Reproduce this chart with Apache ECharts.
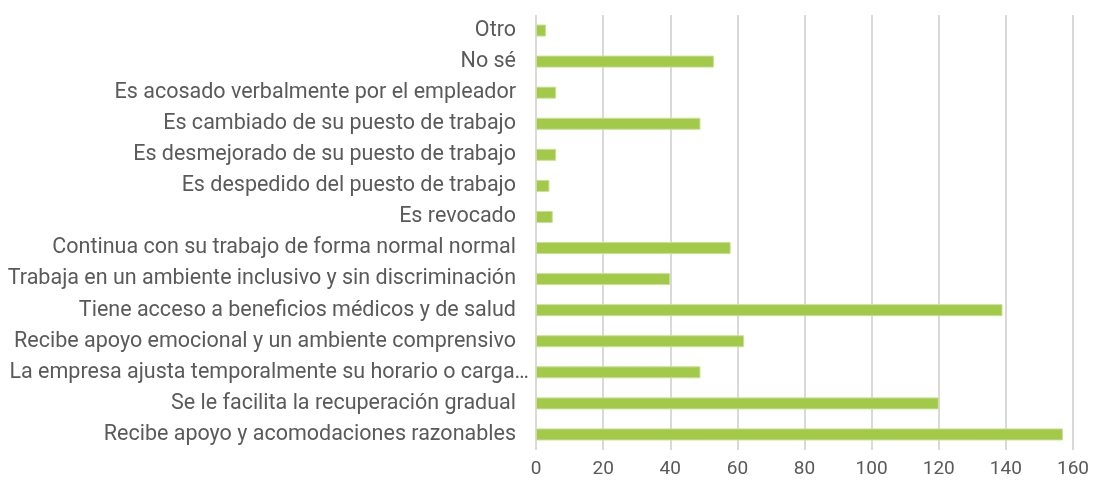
<!DOCTYPE html>
<html>
<head>
<meta charset="utf-8">
<script src="https://cdn.jsdelivr.net/npm/echarts@6/dist/echarts.min.js"></script>
<style>html,body{margin:0;padding:0;background:#fff}#c{width:1096px;height:490px}</style>
</head>
<body>
<div id="c"></div>
<script>
const categories = [
  "Recibe apoyo y acomodaciones razonables",
  "Se le facilita la recuperación gradual",
  "La empresa ajusta temporalmente su horario o carga…",
  "Recibe apoyo emocional y un ambiente comprensivo",
  "Tiene acceso a beneficios médicos y de salud",
  "Trabaja en un ambiente inclusivo y sin discriminación",
  "Continua con su trabajo de forma normal normal",
  "Es revocado",
  "Es despedido del puesto de trabajo",
  "Es desmejorado de su puesto de trabajo",
  "Es cambiado de su puesto de trabajo",
  "Es acosado verbalmente por el empleador",
  "No sé",
  "Otro"
];
const values = [157, 120, 49, 62, 139, 40, 58, 5, 4, 6, 49, 6, 53, 3];
const xTicks = { min: 0, max: 160, interval: 20 };

const catData = categories.map(c => c.endsWith('…')
  ? { value: c, textStyle: { padding: [0, -13, 0, 0] } }
  : c);

const chart = echarts.init(document.getElementById('c'), null, { renderer: 'canvas' });
chart.setOption({
  animation: false,
  backgroundColor: '#ffffff',
  grid: { left: 536, right: 23, top: 15, bottom: 40, containLabel: false, outerBoundsMode: 'none' },
  xAxis: {
    type: 'value',
    min: xTicks.min, max: xTicks.max, interval: xTicks.interval,
    axisLine: { show: false },
    axisTick: { show: false },
    axisLabel: { color: '#595959', fontSize: 19, fontFamily: 'Roboto', margin: 10 },
    splitLine: { show: true, lineStyle: { color: '#d9d9d9', width: 2 } }
  },
  yAxis: {
    type: 'category',
    data: catData,
    axisLine: { show: false },
    axisTick: { show: false },
    axisLabel: { color: '#5a5a5a', fontSize: 21.5, fontFamily: 'Roboto', margin: 20 }
  },
  series: [{
    type: 'bar',
    data: values,
    barWidth: 12,
    itemStyle: { color: '#a2c948', borderColor: '#c6e09a', borderWidth: 1 }
  }]
});
</script>
</body>
</html>
